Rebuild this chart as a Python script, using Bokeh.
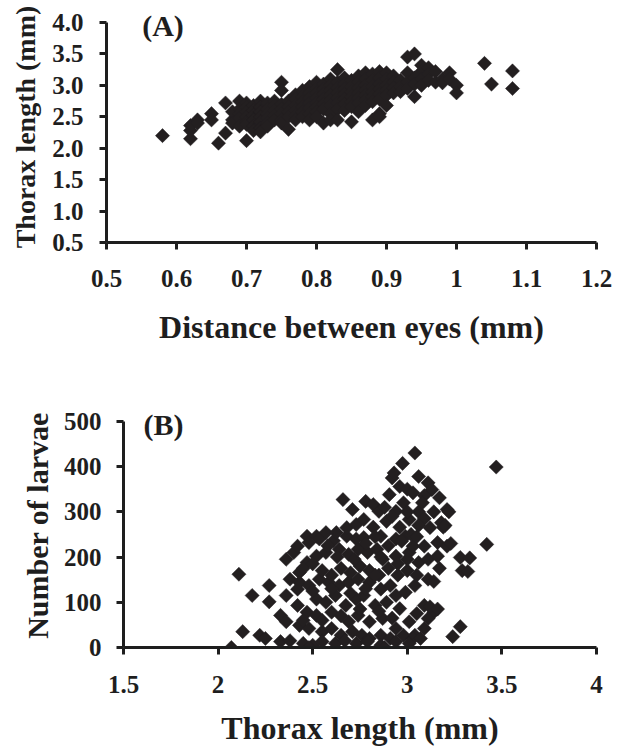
from bokeh.plotting import figure
from bokeh.models import Range1d, FixedTicker, Label
from bokeh.embed import file_html
from bokeh.resources import INLINE

# ---------------- Panel A: distance between eyes vs thorax length ----------------
eye_distance = [
    0.58,
    0.62, 0.62, 0.62,
    0.63, 0.63,
    0.65, 0.65,
    0.66,
    0.67, 0.67,
    0.68, 0.68, 0.68,
    0.69, 0.69, 0.69, 0.69, 0.69,
    0.70, 0.70, 0.70, 0.70, 0.70, 0.70, 0.70,
    0.71, 0.71, 0.71, 0.71, 0.71, 0.71,
    0.72, 0.72, 0.72, 0.72, 0.72, 0.72, 0.72,
    0.73, 0.73, 0.73, 0.73, 0.73, 0.73,
    0.74, 0.74, 0.74, 0.74, 0.74,
    0.75, 0.75, 0.75, 0.75, 0.75, 0.75, 0.75,
    0.76, 0.76, 0.76, 0.76, 0.76,
    0.77, 0.77, 0.77, 0.77, 0.77, 0.77,
    0.78, 0.78, 0.78, 0.78, 0.78, 0.78,
    0.79, 0.79, 0.79, 0.79, 0.79, 0.79, 0.79,
    0.80, 0.80, 0.80, 0.80, 0.80, 0.80, 0.80, 0.80,
    0.81, 0.81, 0.81, 0.81, 0.81, 0.81, 0.81,
    0.82, 0.82, 0.82, 0.82, 0.82, 0.82, 0.82, 0.82,
    0.83, 0.83, 0.83, 0.83, 0.83, 0.83, 0.83, 0.83,
    0.84, 0.84, 0.84, 0.84, 0.84, 0.84, 0.84,
    0.85, 0.85, 0.85, 0.85, 0.85, 0.85, 0.85,
    0.86, 0.86, 0.86, 0.86, 0.86, 0.86, 0.86,
    0.87, 0.87, 0.87, 0.87, 0.87, 0.87, 0.87,
    0.88, 0.88, 0.88, 0.88, 0.88, 0.88, 0.88,
    0.89, 0.89, 0.89, 0.89, 0.89, 0.89, 0.89, 0.89,
    0.90, 0.90, 0.90, 0.90, 0.90, 0.90,
    0.91, 0.91, 0.91, 0.91,
    0.92, 0.92, 0.92,
    0.93, 0.93, 0.93, 0.93,
    0.94, 0.94, 0.94, 0.94,
    0.95, 0.95, 0.95, 0.95,
    0.96, 0.96, 0.96,
    0.97, 0.97,
    0.98, 0.98,
    0.99, 0.99,
    1.00, 1.00,
    1.04,
    1.05,
    1.08, 1.08,
]
thorax_a = [
    2.20,
    2.15, 2.28, 2.36,
    2.45, 2.40,
    2.55, 2.45,
    2.08,
    2.72, 2.24,
    2.45, 2.58, 2.40,
    2.75, 2.62, 2.55, 2.48, 2.35,
    2.12, 2.72, 2.65, 2.58, 2.50, 2.42, 2.38,
    2.68, 2.60, 2.52, 2.45, 2.35, 2.28,
    2.75, 2.66, 2.58, 2.50, 2.42, 2.32, 2.26,
    2.72, 2.62, 2.55, 2.48, 2.40, 2.35,
    2.75, 2.68, 2.60, 2.52, 2.45,
    3.05, 2.92, 2.70, 2.62, 2.55, 2.45, 2.40,
    2.75, 2.66, 2.58, 2.50, 2.30,
    2.85, 2.78, 2.68, 2.60, 2.52, 2.45,
    2.92, 2.82, 2.74, 2.66, 2.58, 2.50,
    2.98, 2.88, 2.80, 2.72, 2.64, 2.55, 2.45,
    3.05, 2.95, 2.88, 2.80, 2.72, 2.65, 2.58, 2.50,
    3.02, 2.94, 2.86, 2.78, 2.70, 2.62, 2.40,
    3.10, 3.00, 2.92, 2.84, 2.76, 2.68, 2.55, 2.45,
    3.25, 3.05, 2.96, 2.88, 2.80, 2.72, 2.62, 2.45,
    3.12, 3.02, 2.94, 2.86, 2.78, 2.70, 2.60,
    3.08, 2.98, 2.90, 2.82, 2.74, 2.66, 2.42,
    3.15, 3.05, 2.96, 2.88, 2.80, 2.72, 2.58,
    3.20, 3.10, 3.00, 2.92, 2.84, 2.76, 2.68,
    3.18, 3.08, 2.98, 2.90, 2.82, 2.74, 2.45,
    3.22, 3.12, 3.02, 2.94, 2.86, 2.78, 2.55, 2.50,
    3.20, 3.10, 3.00, 2.92, 2.84, 2.68,
    3.15, 3.05, 2.96, 2.88,
    3.08, 2.98, 2.90,
    3.45, 3.20, 3.05, 2.95,
    3.50, 3.12, 3.02, 2.82,
    3.32, 3.22, 3.10, 3.00,
    3.28, 3.18, 3.08,
    3.22, 3.05,
    3.10, 3.04,
    3.20, 3.10,
    3.00, 2.88,
    3.35,
    3.02,
    3.23, 2.95,
]

# ---------------- Panel B: thorax length vs number of larvae ----------------
thorax_b = [
    2.07, 2.11, 2.13, 2.18, 2.22, 2.25, 2.27, 2.27, 2.33, 2.36, 2.33, 2.38,
    2.36, 2.40, 2.43, 2.47, 2.42, 2.47, 2.48, 2.52, 2.52, 2.535, 2.57, 2.57,
    2.61, 2.625, 2.64, 2.68, 2.68, 2.69, 2.73, 2.73, 2.74, 2.77, 2.77, 2.79,
    2.82, 2.84, 2.86, 2.87, 2.89, 2.94, 2.94, 2.96, 2.99, 3.01, 3.03, 3.06,
    3.09, 3.11, 3.16, 3.16, 3.21, 3.28, 3.29, 3.42,
    2.66, 2.71, 2.78, 2.82, 2.85, 2.94, 2.905, 2.96, 3.00, 3.03, 2.92, 2.93,
    2.975, 3.04, 3.06, 3.11, 3.13, 3.09, 3.17, 3.21, 3.06, 3.01, 3.09, 3.18,
    3.06, 3.19, 3.47,
    2.42, 2.38, 2.43, 2.48, 2.535, 2.585, 2.64, 2.69, 2.74, 2.80, 2.86, 2.91,
    2.94, 2.99, 3.04, 3.11, 3.14, 3.17,
    2.52, 2.57, 2.62, 2.675, 2.73, 2.77, 2.83, 2.89, 2.96, 3.09, 3.14, 3.11,
    2.47, 2.52, 2.42, 2.36, 2.60, 2.69, 2.74, 2.80, 2.87, 2.94, 3.01, 3.04,
    3.09, 3.28, 3.24,
    2.43, 2.48, 2.55, 2.60, 2.65, 2.71, 2.76, 2.80, 2.86, 2.91, 2.98, 3.03,
    2.45, 2.50, 2.55, 2.62, 2.67, 2.73, 2.79, 2.86, 2.94, 3.01, 3.07, 2.48,
    2.88,
    2.45, 2.50, 2.55, 2.60, 2.65, 2.70, 2.75, 2.80, 2.85, 2.90, 2.95, 3.00,
    3.05, 2.58, 2.63, 2.72, 2.78, 2.83, 2.90, 2.97, 3.02,
    2.45, 2.55, 2.65, 2.75, 2.85, 2.92, 3.05, 3.12, 3.16,
    2.50, 2.60, 2.70, 2.78, 2.83,
    2.88, 2.98, 3.08, 3.00, 2.92, 3.14, 3.22, 3.23, 3.33, 3.32, 3.05, 3.00,
    2.95, 2.86, 3.12, 3.20,
]
larvae = [
    0, 162, 35, 115, 27, 20, 137, 101, 71, 57, 13, 15,
    195, 210, 166, 188, 224, 246, 232, 246, 202, 240, 254, 210,
    236, 254, 217, 246, 265, 206, 240, 272, 217, 243, 283, 210,
    266, 217, 246, 195, 279, 240, 202, 266, 246, 210, 224, 188,
    224, 195, 232, 202, 224, 199, 170, 228,
    327, 305, 323, 316, 301, 301, 338, 356, 350, 342, 375, 386,
    407, 430, 378, 364, 349, 336, 331, 305, 300, 283, 285, 276,
    270, 266, 399,
    129, 151, 144, 137, 151, 144, 137, 144, 151, 144, 129, 137,
    115, 122, 137, 151, 146, 175,
    107, 100, 115, 93, 107, 115, 93, 100, 86, 93, 78, 64,
    78, 71, 93, 115, 78, 57, 71, 57, 64, 42, 57, 27,
    42, 46, 24,
    49, 42, 35, 42, 27, 35, 27, 20, 27, 20, 27, 20,
    9, 5, 13, 9, 15, 9, 13, 5, 13, 9, 20, 0,
    0,
    175, 185, 170, 160, 175, 165, 180, 170, 160, 175, 160, 170,
    160, 225, 200, 195, 230, 245, 225, 235, 250,
    60, 60, 70, 85, 80, 65, 75, 90, 85,
    125, 130, 120, 130, 160,
    310, 320, 320, 300, 290, 300, 300, 230, 198, 168, 245, 195,
    185, 200, 265, 270,
]

# ---------------- Axes ticks / labels ----------------
xa_ticks = [0.5, 0.6, 0.7, 0.8, 0.9, 1.0, 1.1, 1.2]
xa_labels = ["0.5", "0.6", "0.7", "0.8", "0.9", "1", "1.1", "1.2"]
ya_ticks = [0.5, 1.0, 1.5, 2.0, 2.5, 3.0, 3.5, 4.0]
ya_labels = ["0.5", "1.0", "1.5", "2.0", "2.5", "3.0", "3.5", "4.0"]
xb_ticks = [1.5, 2.0, 2.5, 3.0, 3.5, 4.0]
xb_labels = ["1.5", "2", "2.5", "3", "3.5", "4"]
yb_ticks = [0, 100, 200, 300, 400, 500]
yb_labels = ["0", "100", "200", "300", "400", "500"]

FONT = "Liberation Serif"
INK = "#1e1e1e"
MARK = "#231f20"


def style_axis(ax, ticks, labels, bounds, title, title_size, label_standoff, title_standoff):
    ax.ticker = FixedTicker(ticks=ticks)
    ax.major_label_overrides = dict(zip(ticks, labels))
    ax.bounds = bounds
    ax.axis_label = title
    ax.axis_label_text_font = FONT
    ax.axis_label_text_font_style = "bold"
    ax.axis_label_text_font_size = title_size
    ax.axis_label_text_color = INK
    ax.axis_label_standoff = title_standoff
    ax.major_label_text_font = FONT
    ax.major_label_text_font_style = "bold"
    ax.major_label_text_font_size = "25px"
    ax.major_label_text_color = INK
    ax.major_label_standoff = label_standoff
    ax.axis_line_width = 3
    ax.axis_line_color = INK
    ax.major_tick_line_width = 3
    ax.major_tick_line_color = INK
    ax.major_tick_out = 7
    ax.major_tick_in = 0
    ax.minor_tick_out = 0
    ax.minor_tick_in = 0


def make_panel(width, height, borders, xr, yr):
    p = figure(width=width, height=height, output_backend="svg",
               toolbar_location=None, x_range=Range1d(*xr), y_range=Range1d(*yr),
               min_border_left=borders[0], min_border_right=borders[1],
               min_border_top=borders[2], min_border_bottom=borders[3])
    p.outline_line_color = None
    p.grid.visible = False
    p.background_fill_color = "white"
    p.border_fill_color = "white"
    return p


# Panel A  (frame: x 106..596, y 4..242; 4.0 sits 18px below the frame top)
ya_top = 4.0 + 18 * 3.5 / 220
pa = make_panel(620, 360, (106, 24, 4, 118), (0.5, 1.2), (0.5, ya_top))
pa.scatter(eye_distance, thorax_a, marker="square", angle=0.785398, size=10,
           fill_color=MARK, line_color=MARK, line_width=0.5)
style_axis(pa.xaxis[0], xa_ticks, xa_labels, (0.5, 1.2), "Distance between eyes (mm)", "32px", 20, 19)
style_axis(pa.yaxis[0], ya_ticks, ya_labels, (0.5, 4.0), "Thorax  length (mm)", "28px", 16, 8)
pa.add_layout(Label(x=0.551, y=3.96, text="(A)", text_font=FONT, text_font_style="bold",
                    text_font_size="30px", text_color=INK, text_baseline="middle",
                    text_align="left"))

# Panel B  (frame: x 123..596, y 403..649; 500 sits 18px below the frame top)
yb_top = 500 + 18 * 500 / 228
pb = make_panel(620, 388, (123, 24, 43, 99), (1.5, 4.0), (0, yb_top))
pb.scatter(thorax_b, larvae, marker="square", angle=0.785398, size=10,
           fill_color=MARK, line_color=MARK, line_width=0.5)
style_axis(pb.xaxis[0], xb_ticks, xb_labels, (1.5, 4.0), "Thorax length (mm)", "32px", 21, 14)
style_axis(pb.yaxis[0], yb_ticks, yb_labels, (0, 500), "Number of larvae", "30px", 15, 7)
pb.add_layout(Label(x=1.606, y=493, text="(B)", text_font=FONT, text_font_style="bold",
                    text_font_size="30px", text_color=INK, text_baseline="middle",
                    text_align="left"))

open("out.html", "w").write(file_html([pa, pb], INLINE))
